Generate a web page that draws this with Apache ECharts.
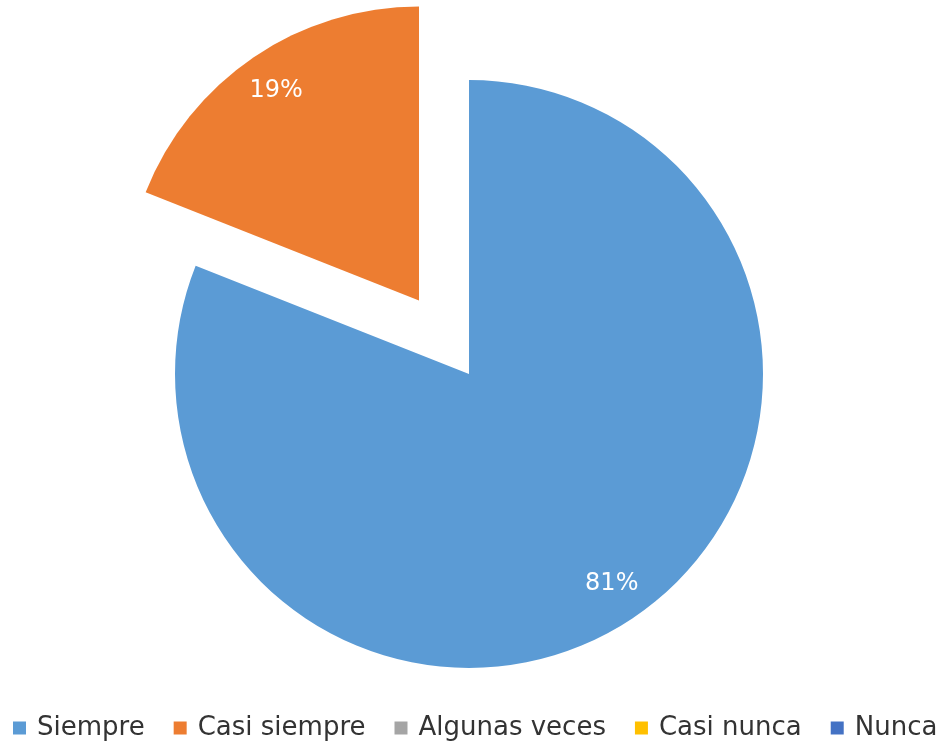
<!DOCTYPE html>
<html>
<head>
<meta charset="utf-8">
<script src="https://cdn.jsdelivr.net/npm/echarts@6/dist/echarts.min.js"></script>
<style>
  html, body { margin: 0; padding: 0; background: #fff; }
  #chart { width: 942px; height: 744px; }
</style>
</head>
<body>
<div id="chart"></div>
<script>
const categories = ['Siempre', 'Casi siempre', 'Algunas veces', 'Casi nunca', 'Nunca'];
const values = [81, 19, 0, 0, 0];
const colors = ['#5B9BD5', '#ED7D31', '#A5A5A5', '#FFC000', '#4472C4'];

const myChart = echarts.init(document.getElementById('chart'));
const font = '"DejaVu Sans", sans-serif';

const slices = categories.map((name, i) => ({
    name,
    value: values[i],
    selected: i === 1,
    itemStyle: { color: colors[i] }
}));

const option = {
    animation: false,
    color: colors,
    legend: {
        top: 715,
        left: 13,
        width: 929,
        padding: 0,
        icon: 'rect',
        itemWidth: 13,
        itemHeight: 13,
        itemGap: 29,
        textStyle: {
            fontFamily: font,
            fontSize: 26,
            color: '#333',
            padding: [0, 0, 0, 6]
        },
        data: categories
    },
    series: [
        {
            type: 'pie',
            center: [469, 374],
            radius: [0, 294],
            startAngle: 90,
            clockwise: true,
            selectedMode: 'single',
            selectedOffset: 89,
            avoidLabelOverlap: false,
            label: { show: false },
            labelLine: { show: false },
            emphasis: { disabled: true },
            data: slices
        },
        {
            // overlay only for the percentage labels
            type: 'pie',
            center: [469, 374],
            radius: [208, 294],
            startAngle: 90,
            clockwise: true,
            silent: true,
            selectedMode: 'single',
            selectedOffset: 89,
            avoidLabelOverlap: false,
            itemStyle: { color: 'rgba(0,0,0,0)' },
            label: {
                show: true,
                position: 'inside',
                formatter: (p) => (p.value > 0 ? p.value + '%' : ''),
                color: '#fff',
                fontFamily: font,
                fontSize: 24
            },
            labelLine: { show: false },
            emphasis: { disabled: true },
            data: categories.map((name, i) => ({ name, value: values[i], selected: i === 1 }))
        }
    ]
};

myChart.setOption(option);
</script>
</body>
</html>
